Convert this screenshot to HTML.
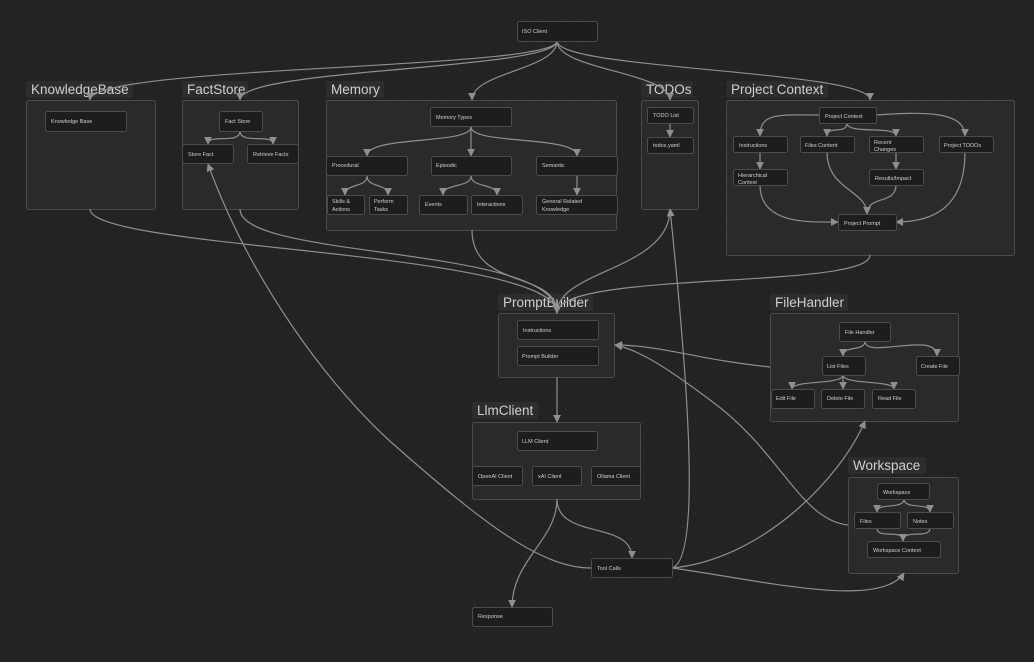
<!DOCTYPE html>
<html><head><meta charset="utf-8"><style>
html,body{margin:0;padding:0;background:#232323;}
body{width:1034px;height:662px;overflow:hidden;background-color:#232323;background-image:radial-gradient(circle,#2d2d2d 0.8px,transparent 1px);background-size:13px 13px;}
svg{position:absolute;left:0;top:0;font-family:"Liberation Sans",sans-serif;}
.g{fill:#2a2a2a;stroke:#4a4a4a;stroke-width:1;}
.lb{fill:#2d2d2d;}
.t{fill:#d0d0d0;font-size:13.5px;}
.n{fill:#1d1d1d;stroke:#4c4c4c;stroke-width:1;}
.s{fill:#d0d0d0;font-size:5.5px;}
.e{fill:none;stroke:#8f8f8f;stroke-width:1.2;marker-end:url(#a);}
</style></head><body>
<svg width="1034" height="662" viewBox="0 0 1034 662">
<defs><marker id="a" viewBox="0 0 10 10" refX="9" refY="5" markerWidth="8" markerHeight="8" orient="auto-start-reverse" markerUnits="userSpaceOnUse"><path d="M0,0L10,5L0,10z" fill="#8f8f8f"/></marker></defs>

<rect class="lb" x="26" y="81" width="107" height="17" rx="2"/><text class="t" x="31" y="94">KnowledgeBase</text>
<rect class="g" x="26.5" y="100.5" width="129" height="109" rx="2"/>
<rect class="lb" x="182" y="81" width="66" height="17" rx="2"/><text class="t" x="187" y="94">FactStore</text>
<rect class="g" x="182.5" y="100.5" width="116" height="109" rx="2"/>
<rect class="lb" x="326" y="81" width="58" height="17" rx="2"/><text class="t" x="331" y="94">Memory</text>
<rect class="g" x="326.5" y="100.5" width="290" height="130" rx="2"/>
<rect class="lb" x="641" y="81" width="52" height="17" rx="2"/><text class="t" x="646" y="94">TODOs</text>
<rect class="g" x="641.5" y="100.5" width="57" height="109" rx="2"/>
<rect class="lb" x="726" y="81" width="102" height="17" rx="2"/><text class="t" x="731" y="94">Project Context</text>
<rect class="g" x="726.5" y="100.5" width="288" height="155" rx="2"/>
<rect class="lb" x="498" y="294" width="95" height="17" rx="2"/><text class="t" x="503" y="307">PromptBuilder</text>
<rect class="g" x="498.5" y="313.5" width="116" height="64" rx="2"/>
<rect class="lb" x="770" y="294" width="78" height="17" rx="2"/><text class="t" x="775" y="307">FileHandler</text>
<rect class="g" x="770.5" y="313.5" width="188" height="108" rx="2"/>
<rect class="lb" x="472" y="402" width="66" height="17" rx="2"/><text class="t" x="477" y="415">LlmClient</text>
<rect class="g" x="472.5" y="422.5" width="168" height="77" rx="2"/>
<rect class="lb" x="848" y="457" width="78" height="17" rx="2"/><text class="t" x="853" y="470">Workspace</text>
<rect class="g" x="848.5" y="477.5" width="110" height="96" rx="2"/>

<path class="e" d="M557,41 C557,70 90,65 90,100"/>
<path class="e" d="M557,41 C557,70 240,68 240,100"/>
<path class="e" d="M557,41 C557,70 472,72 472,100"/>
<path class="e" d="M557,41 C557,70 670,72 670,100"/>
<path class="e" d="M557,41 C557,70 870,70 870,100"/>
<path class="e" d="M90,209 C90,250 557,250 557,313"/>
<path class="e" d="M240,209 C240,260 557,245 557,313"/>
<path class="e" d="M472,230 C472,290 557,270 557,313"/>
<path class="e" d="M670,209 C670,270 557,270 557,313"/>
<path class="e" d="M870,255 C870,290 557,270 557,313"/>
<path class="e" d="M557,377 L557,422"/>
<path class="e" d="M557,499 C557,540 632,520 632,558"/>
<path class="e" d="M557,499 C557,540 512,560 512,607"/>
<path class="e" d="M591,568 C540,568 480,520 400,450 C330,390 250,280 208,164"/>
<path class="e" d="M672,568 C700,560 690,400 670,209"/>
<path class="e" d="M672,568 C760,560 840,480 865,421"/>
<path class="e" d="M672,568 C760,580 880,610 904,573"/>
<path class="e" d="M770,367 C700,360 660,345 615,345"/>
<path class="e" d="M848,525 C800,520 780,450 710,400 C670,370 640,350 615,345"/>

<path class="e" d="M240,131 C240,145 208,133 208,144"/>
<path class="e" d="M240,131 C240,145 273,133 273,144"/>
<path class="e" d="M471,127 C471,145 367,135 367,156"/>
<path class="e" d="M471,127 L471,156"/>
<path class="e" d="M471,127 C471,145 577,135 577,156"/>
<path class="e" d="M367,176 C367,188 345,183 345,195"/>
<path class="e" d="M367,176 C367,188 388,183 388,195"/>
<path class="e" d="M471,176 C471,188 443,183 443,195"/>
<path class="e" d="M471,176 C471,188 497,183 497,195"/>
<path class="e" d="M577,176 L577,195"/>
<path class="e" d="M670,123 L670,137"/>
<path class="e" d="M819,115 C780,115 760,112 760,136"/>
<path class="e" d="M847,123 C847,135 827,125 827,136"/>
<path class="e" d="M847,123 C847,135 896,125 896,136"/>
<path class="e" d="M876,115 C920,112 965,110 965,136"/>
<path class="e" d="M760,152 L760,169"/>
<path class="e" d="M896,152 L896,169"/>
<path class="e" d="M760,185 C760,225 810,222 838,222"/>
<path class="e" d="M827,152 C827,190 867,190 867,214"/>
<path class="e" d="M896,185 C896,205 867,195 867,214"/>
<path class="e" d="M965,152 C965,210 930,222 896,222"/>
<path class="e" d="M865,341 C865,352 843,345 843,356"/>
<path class="e" d="M865,341 C865,360 937,330 937,356"/>
<path class="e" d="M843,375 C843,385 792,380 792,389"/>
<path class="e" d="M843,375 L843,389"/>
<path class="e" d="M843,375 C843,385 894,380 894,389"/>
<path class="e" d="M904,499 C904,510 877,502 877,512"/>
<path class="e" d="M904,499 C904,510 930,502 930,512"/>
<path class="e" d="M877,528 C877,540 903,528 903,541"/>
<path class="e" d="M930,528 C930,540 903,528 903,541"/>

<g>
<rect class="n" x="517.5" y="21.5" width="80" height="20" rx="2"/><text class="s" x="522" y="33">ISO Client</text>
<rect class="n" x="45.5" y="111.5" width="81" height="20" rx="2"/><text class="s" x="51" y="123">Knowledge Base</text>
<rect class="n" x="219.5" y="111.5" width="43" height="20" rx="2"/><text class="s" x="225" y="123">Fact Store</text>
<rect class="n" x="182.5" y="144.5" width="51" height="19" rx="2"/><text class="s" x="188" y="156">Store Fact</text>
<rect class="n" x="247.5" y="144.5" width="51" height="19" rx="2"/><text class="s" x="253" y="156">Retrieve Facts</text>
<rect class="n" x="430.5" y="107.5" width="81" height="19" rx="2"/><text class="s" x="436" y="119">Memory Types</text>
<rect class="n" x="326.5" y="156.5" width="81" height="19" rx="2"/><text class="s" x="332" y="167">Procedural</text>
<rect class="n" x="431.5" y="156.5" width="80" height="19" rx="2"/><text class="s" x="436" y="167">Episodic</text>
<rect class="n" x="536.5" y="156.5" width="81" height="19" rx="2"/><text class="s" x="542" y="167">Semantic</text>
<rect class="n" x="327.5" y="195.5" width="37" height="19" rx="2"/><text class="s" x="332" y="203">Skills &amp;</text><text class="s" x="332" y="211">Actions</text>
<rect class="n" x="369.5" y="195.5" width="38" height="19" rx="2"/><text class="s" x="374" y="203">Perform</text><text class="s" x="374" y="211">Tasks</text>
<rect class="n" x="419.5" y="195.5" width="48" height="19" rx="2"/><text class="s" x="425" y="206">Events</text>
<rect class="n" x="471.5" y="195.5" width="51" height="19" rx="2"/><text class="s" x="477" y="206">Interactions</text>
<rect class="n" x="536.5" y="195.5" width="81" height="19" rx="2"/><text class="s" x="542" y="203">General Related</text><text class="s" x="542" y="211">Knowledge</text>
<rect class="n" x="647.5" y="107.5" width="46" height="16" rx="2"/><text class="s" x="653" y="117">TODO List</text>
<rect class="n" x="647.5" y="137.5" width="46" height="16" rx="2"/><text class="s" x="653" y="147">todos.yaml</text>
<rect class="n" x="819.5" y="107.5" width="57" height="16" rx="2"/><text class="s" x="825" y="118">Project Context</text>
<rect class="n" x="733.5" y="136.5" width="54" height="16" rx="2"/><text class="s" x="739" y="147">Instructions</text>
<rect class="n" x="800.5" y="136.5" width="54" height="16" rx="2"/><text class="s" x="805" y="147">Files Content</text>
<rect class="n" x="869.5" y="136.5" width="54" height="16" rx="2"/><text class="s" x="874" y="144">Recent</text><text class="s" x="874" y="151">Changes</text>
<rect class="n" x="939.5" y="136.5" width="54" height="16" rx="2"/><text class="s" x="944" y="147">Project TODOs</text>
<rect class="n" x="733.5" y="169.5" width="54" height="16" rx="2"/><text class="s" x="738" y="177">Hierarchical</text><text class="s" x="738" y="184">Context</text>
<rect class="n" x="869.5" y="169.5" width="54" height="16" rx="2"/><text class="s" x="875" y="180">Results/Impact</text>
<rect class="n" x="838.5" y="214.5" width="58" height="16" rx="2"/><text class="s" x="844" y="225">Project Prompt</text>
<rect class="n" x="517.5" y="320.5" width="81" height="19" rx="2"/><text class="s" x="523" y="332">Instructions</text>
<rect class="n" x="517.5" y="346.5" width="81" height="19" rx="2"/><text class="s" x="522" y="358">Prompt Builder</text>
<rect class="n" x="839.5" y="322.5" width="51" height="19" rx="2"/><text class="s" x="845" y="334">File Handler</text>
<rect class="n" x="822.5" y="356.5" width="43" height="19" rx="2"/><text class="s" x="827" y="368">List Files</text>
<rect class="n" x="916.5" y="356.5" width="43" height="19" rx="2"/><text class="s" x="921" y="368">Create File</text>
<rect class="n" x="771.5" y="389.5" width="43" height="19" rx="2"/><text class="s" x="776" y="400">Edit File</text>
<rect class="n" x="821.5" y="389.5" width="43" height="19" rx="2"/><text class="s" x="827" y="400">Delete File</text>
<rect class="n" x="872.5" y="389.5" width="43" height="19" rx="2"/><text class="s" x="878" y="400">Read File</text>
<rect class="n" x="517.5" y="431.5" width="80" height="19" rx="2"/><text class="s" x="522" y="443">LLM Client</text>
<rect class="n" x="472.5" y="466.5" width="50" height="19" rx="2"/><text class="s" x="478" y="478">OpenAI Client</text>
<rect class="n" x="532.5" y="466.5" width="49" height="19" rx="2"/><text class="s" x="538" y="478">xAI Client</text>
<rect class="n" x="591.5" y="466.5" width="49" height="19" rx="2"/><text class="s" x="597" y="478">Ollama Client</text>
<rect class="n" x="877.5" y="483.5" width="52" height="16" rx="2"/><text class="s" x="883" y="494">Workspace</text>
<rect class="n" x="854.5" y="512.5" width="46" height="16" rx="2"/><text class="s" x="860" y="523">Files</text>
<rect class="n" x="907.5" y="512.5" width="46" height="16" rx="2"/><text class="s" x="913" y="523">Notes</text>
<rect class="n" x="867.5" y="541.5" width="73" height="16" rx="2"/><text class="s" x="873" y="552">Workspace Context</text>
<rect class="n" x="591.5" y="558.5" width="81" height="19" rx="2"/><text class="s" x="597" y="570">Tool Calls</text>
<rect class="n" x="472.5" y="607.5" width="80" height="19" rx="2"/><text class="s" x="478" y="618">Response</text>
</g>
</svg>
</body></html>
